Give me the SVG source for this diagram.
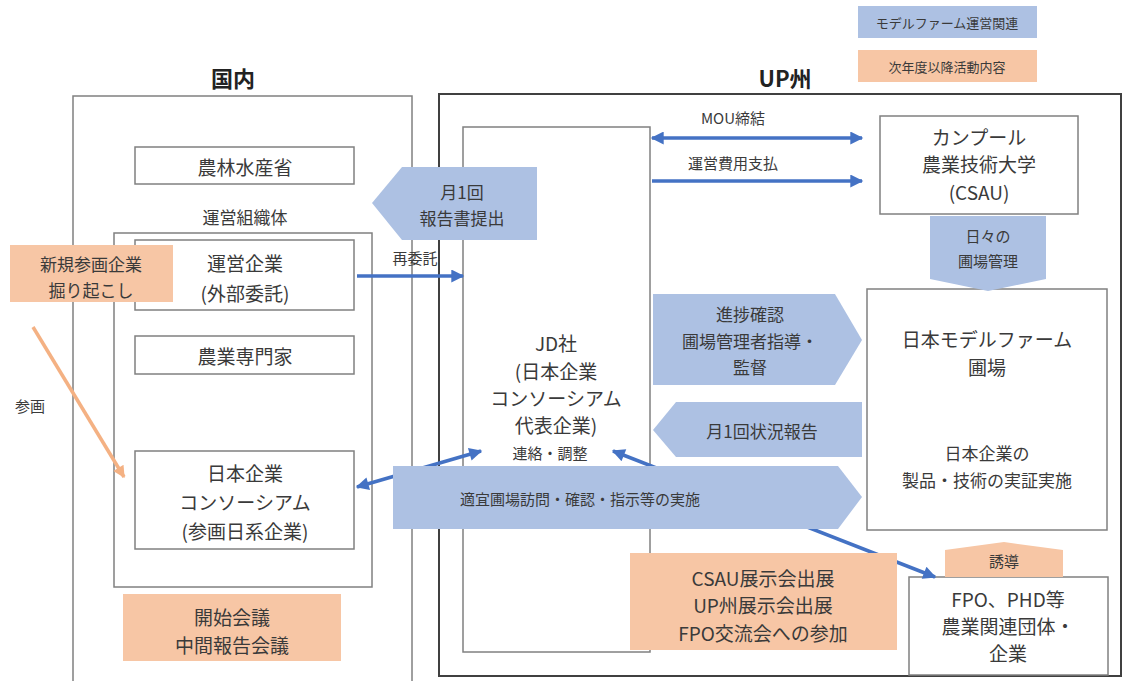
<svg xmlns="http://www.w3.org/2000/svg" width="1124" height="681" viewBox="0 0 1124 681">
<style>
text{font-family:"Noto Sans CJK JP","Noto Sans",sans-serif;fill:#3a3a3a;text-anchor:middle;dominant-baseline:central}
.box{fill:#fff;stroke:#808080;stroke-width:1.5}
.frame{fill:none;stroke:#808080;stroke-width:1.5}
.frame2{fill:none;stroke:#404040;stroke-width:2}
.blue{fill:#adc1e3}
.orange{fill:#f7c6a5}
.t22{font-size:19px}
.t18{font-size:17px}
.t15{font-size:15px}
.t13{font-size:13px}
.title{font-size:22px;font-weight:bold;fill:#222}
.arr{stroke:#4472c4;stroke-width:3.5;fill:none}
</style>
<defs>
<marker id="ah" viewBox="0 0 10 10" refX="9" refY="5" markerWidth="15" markerHeight="13" markerUnits="userSpaceOnUse" orient="auto-start-reverse"><path d="M0,0 L10,5 L0,10 z" fill="#4472c4"/></marker>
<marker id="aho" viewBox="0 0 10 10" refX="9" refY="5" markerWidth="14" markerHeight="12" markerUnits="userSpaceOnUse" orient="auto"><path d="M0,0 L10,5 L0,10 z" fill="#f4b183"/></marker>
</defs>
<rect width="1124" height="681" fill="#fff"/>

<g id="legend">
<rect class="blue" x="858" y="6" width="179" height="32"/>
<text class="t13" x="947" y="22">モデルファーム運営関連</text>
<rect class="orange" x="858" y="50" width="179" height="32"/>
<text class="t13" x="947" y="66">次年度以降活動内容</text>
</g>

<g id="domestic">
<text class="title" x="233" y="77">国内</text>
<rect class="frame" x="73" y="96" width="339" height="600"/>
</g>
<g id="up">
<text class="title" x="785" y="77">UP州</text>
<rect class="frame2" x="439" y="94" width="682" height="582"/>
</g>

<g id="maff">
<rect class="box" x="135" y="147" width="219" height="37"/>
<text class="t22" x="245" y="166">農林水産省</text>
</g>

<g id="org">
<text class="t18" x="245" y="216">運営組織体</text>
<rect class="frame" x="114" y="233" width="258" height="354"/>
</g>

<g id="opco">
<rect class="box" x="135" y="240" width="219" height="70"/>
<text class="t22" x="245" y="262">運営企業</text>
<text class="t22" x="245" y="292">(外部委託)</text>
</g>

<g id="expert">
<rect class="box" x="135" y="336" width="219" height="38"/>
<text class="t22" x="245" y="355">農業専門家</text>
</g>

<g id="consortium">
<rect class="box" x="135" y="451" width="219" height="98"/>
<text class="t22" x="245" y="472">日本企業</text>
<text class="t22" x="245" y="501">コンソーシアム</text>
<text class="t22" x="245" y="530">(参画日系企業)</text>
</g>

<g id="meeting">
<rect class="orange" x="123" y="594" width="218" height="67"/>
<text class="t22" x="232" y="616">開始会議</text>
<text class="t22" x="232" y="644">中間報告会議</text>
</g>

<g id="newco">
<rect class="orange" x="10" y="245" width="163" height="57"/>
<text class="t18" x="91" y="263">新規参画企業</text>
<text class="t18" x="91" y="289">掘り起こし</text>
</g>

<g id="jd">
<rect class="box" x="463" y="127" width="187" height="525"/>
<text class="t22" x="556" y="342">JD社</text>
<text class="t22" x="556" y="370">(日本企業</text>
<text class="t22" x="556" y="397">コンソーシアム</text>
<text class="t22" x="556" y="424">代表企業)</text>
<text class="t15" x="550" y="452">連絡・調整</text>
</g>

<g id="csau">
<rect class="box" x="880" y="116" width="198" height="98"/>
<text class="t22" x="979" y="136">カンプール</text>
<text class="t22" x="979" y="163">農業技術大学</text>
<text class="t22" x="979" y="191">(CSAU)</text>
</g>

<g id="farm">
<rect class="box" x="867" y="289" width="240" height="241"/>
<text class="t22" x="987" y="338">日本モデルファーム</text>
<text class="t22" x="987" y="366">圃場</text>
<text class="t18" x="987" y="452">日本企業の</text>
<text class="t18" x="987" y="479">製品・技術の実証実施</text>
</g>

<g id="fpo">
<rect class="box" x="909" y="577" width="199" height="98"/>
<text class="t22" x="1008" y="598">FPO、PHD等</text>
<text class="t22" x="1008" y="625">農業関連団体・</text>
<text class="t22" x="1008" y="652">企業</text>
</g>

<g id="connectors">
<line class="arr" x1="652" y1="138" x2="862" y2="138" marker-start="url(#ah)" marker-end="url(#ah)"/>
<line class="arr" x1="652" y1="181" x2="862" y2="181" marker-end="url(#ah)"/>
<line class="arr" x1="357" y1="276" x2="463" y2="276" marker-end="url(#ah)"/>
<line class="arr" x1="357" y1="487" x2="481" y2="451" marker-start="url(#ah)" marker-end="url(#ah)"/>
<line class="arr" x1="613" y1="451" x2="935" y2="577" marker-start="url(#ah)" marker-end="url(#ah)"/>
<line x1="33" y1="327" x2="124" y2="477" stroke="#f4b183" stroke-width="3.5" marker-end="url(#aho)"/>
</g>

<g id="labels">
<text class="t15" x="733" y="117">MOU締結</text>
<text class="t15" x="733" y="162">運営費用支払</text>
<text class="t15" x="415" y="257">再委託</text>
<text class="t15" x="30" y="405">参画</text>
</g>

<g id="report-monthly">
<polygon class="blue" points="537,167 402,167 372,203 402,240 537,240"/>
<text class="t18" x="462" y="191">月1回</text>
<text class="t18" x="462" y="217">報告書提出</text>
</g>

<g id="daily">
<polygon class="blue" points="930,216 1046,216 1046,279 988,291 930,279"/>
<text class="t15" x="988" y="235">日々の</text>
<text class="t15" x="988" y="260">圃場管理</text>
</g>

<g id="progress">
<polygon class="blue" points="653,294 835,294 862,340 835,385 653,385"/>
<text class="t18" x="750" y="313">進捗確認</text>
<text class="t18" x="750" y="340">圃場管理者指導・</text>
<text class="t18" x="750" y="366">監督</text>
</g>

<g id="status">
<polygon class="blue" points="862,402 676,402 653,430 676,457 862,457"/>
<text class="t18" x="762" y="430">月1回状況報告</text>
</g>

<g id="visit">
<polygon class="blue" points="393,466 838,466 862,497 838,529 393,529"/>
<text class="t15" x="580" y="498">適宜圃場訪問・確認・指示等の実施</text>
</g>

<g id="expo">
<rect class="orange" x="630" y="553" width="267" height="97"/>
<text class="t22" x="763" y="577">CSAU展示会出展</text>
<text class="t22" x="763" y="604">UP州展示会出展</text>
<text class="t22" x="763" y="632">FPO交流会への参加</text>
</g>

<g id="guide">
<polygon class="orange" points="945,550 1004,542 1063,550 1063,577 945,577"/>
<text class="t15" x="1004" y="560">誘導</text>
</g>
</svg>
